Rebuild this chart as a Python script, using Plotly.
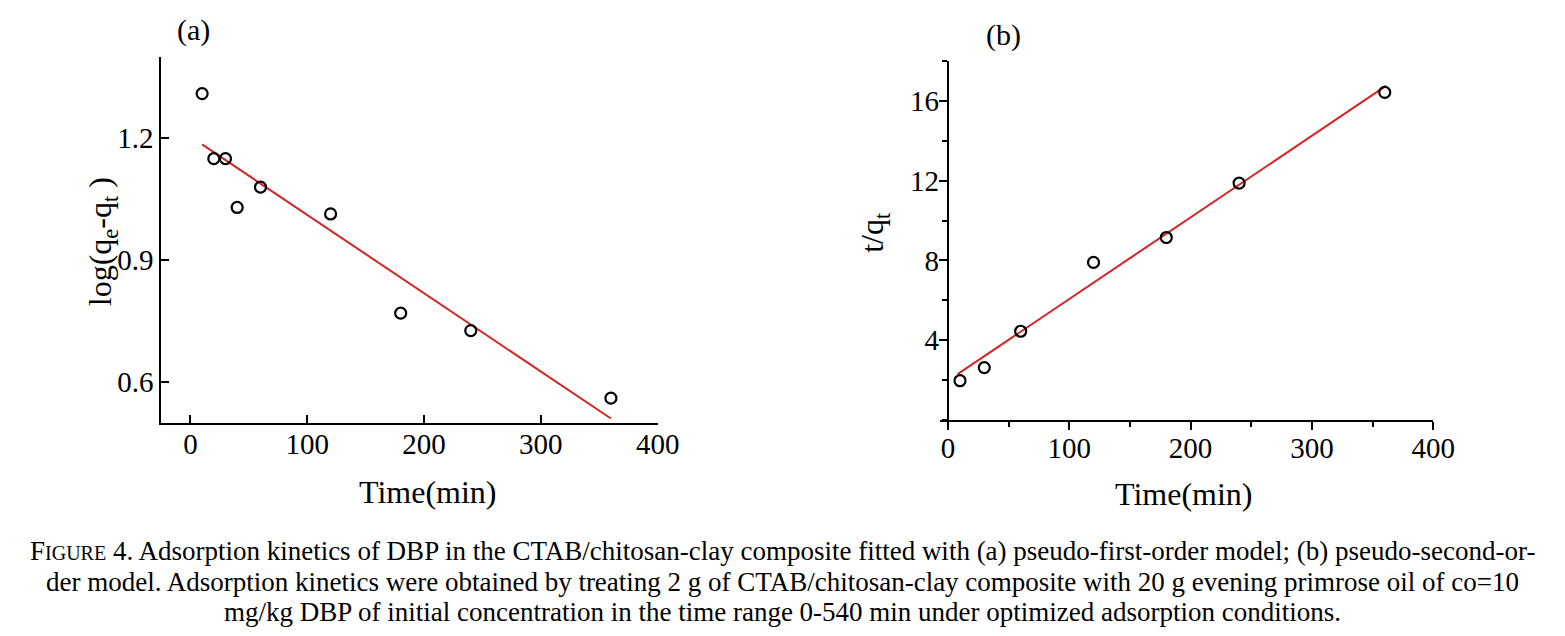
import plotly.graph_objects as go

# panel (a): pseudo-first-order
time_a = [10, 20, 30, 40, 60, 120, 180, 240, 360]
log_qe_qt = [1.31, 1.15, 1.15, 1.03, 1.08, 1.014, 0.77, 0.727, 0.561]
fit_a_x = [10, 360]
fit_a_y = [1.185, 0.511]

# panel (b): pseudo-second-order
time_b = [10, 30, 60, 120, 180, 240, 360]
t_over_qt = [1.97, 2.63, 4.45, 7.9, 9.15, 11.88, 16.43]
fit_b_x = [8, 361]
fit_b_y = [2.3, 16.75]

xticks = [0, 100, 200, 300, 400]
yticks_a = [0.6, 0.9, 1.2]
yticks_b = [4, 8, 12, 16]

# page body has an 8px margin, so the figure is 16px smaller than the window;
# the photo comes out squeezed a little horizontally, SX corrects for that
PAD = 8
SX = 0.985
W, H = 1565 - 2 * PAD, 636 - 2 * PAD
SERIF = "Liberation Serif, Times New Roman, serif"
RED = "#d42426"


def px(x):
    return (x / SX - PAD) / W


def py(y):
    return 1 - (y - PAD) / H


fig = go.Figure()

marker = dict(symbol="circle-open", size=11, color="black", line=dict(width=2.2, color="black"))

fig.add_trace(go.Scatter(x=fit_a_x, y=fit_a_y, mode="lines",
                         line=dict(color=RED, width=2), xaxis="x", yaxis="y"))
fig.add_trace(go.Scatter(x=time_a, y=log_qe_qt, mode="markers",
                         marker=marker, xaxis="x", yaxis="y"))
fig.add_trace(go.Scatter(x=fit_b_x, y=fit_b_y, mode="lines",
                         line=dict(color=RED, width=2), xaxis="x2", yaxis="y2"))
fig.add_trace(go.Scatter(x=time_b, y=t_over_qt, mode="markers",
                         marker=marker, xaxis="x2", yaxis="y2"))

tickfont = dict(family=SERIF, size=29, color="black")
axis_common = dict(showline=True, linecolor="black", linewidth=2, showgrid=False,
                   zeroline=False, tickfont=tickfont, tickcolor="black", tickwidth=1.5)

fig.update_layout(
    width=W, height=H,
    margin=dict(l=0, r=0, t=0, b=0),
    paper_bgcolor="white", plot_bgcolor="white",
    showlegend=False,
    xaxis=dict(domain=[px(161), px(657)], range=[-25, 400], tickvals=xticks,
               ticks="inside", ticklen=8, anchor="y", ticklabelstandoff=-6, **axis_common),
    yaxis=dict(domain=[py(423), py(57)], range=[0.5, 1.4], tickvals=yticks_a,
               tickformat=".1f", ticks="inside", ticklen=8, anchor="x",
               ticklabelstandoff=0, **axis_common),
    xaxis2=dict(domain=[px(939), px(1432)], range=[-6.6, 400], tickvals=xticks,
                ticks="outside", ticklen=8, anchor="y2", ticklabelstandoff=-7,
                minor=dict(dtick=50, tick0=0, ticks="outside", ticklen=5,
                           tickcolor="black", tickwidth=1.5),
                **axis_common),
    yaxis2=dict(domain=[py(420), py(61)], range=[0, 18], tickvals=yticks_b,
                ticks="outside", ticklen=8, anchor="free", position=px(947),
                ticklabelstandoff=-6,
                minor=dict(dtick=2, tick0=0, ticks="outside", ticklen=5,
                           tickcolor="black", tickwidth=1.5),
                **axis_common),
)

title_font = dict(family=SERIF, size=32, color="black")
label_font = dict(family=SERIF, size=30, color="black")
anns = [
    dict(text="(a)", x=px(193), y=py(30), font=label_font),
    dict(text="(b)", x=px(1003), y=py(35), font=label_font),
    dict(text="Time(min)", x=px(428), y=py(492), font=title_font),
    dict(text="Time(min)", x=px(1183), y=py(494), font=title_font),
    dict(text="log(q<sub>e</sub>-q<sub>t</sub> )", x=px(102), y=py(242), textangle=-90, font=title_font),
    dict(text="t/q<sub>t</sub>", x=px(873), y=py(232), textangle=-90, font=title_font),
]

cap_font = dict(family=SERIF, size=27, color="black")
caption_lines = [
    "F<span style='font-size:20px'>IGURE</span> 4. Adsorption kinetics of DBP in the CTAB/chitosan-clay composite fitted with (a) pseudo-first-order model; (b) pseudo-second-or-",
    "der model. Adsorption kinetics were obtained by treating 2 g of CTAB/chitosan-clay composite with 20 g evening primrose oil of co=10",
    "mg/kg DBP of initial concentration in the time range 0-540 min under optimized adsorption conditions.",
]
for line, yy in zip(caption_lines, [551, 582, 612]):
    anns.append(dict(text=line, x=px(782), y=py(yy), font=cap_font))

for a in anns:
    a.update(xref="paper", yref="paper", showarrow=False, xanchor="center", yanchor="middle")
fig.update_layout(annotations=anns)

fig.write_html("out.html")
